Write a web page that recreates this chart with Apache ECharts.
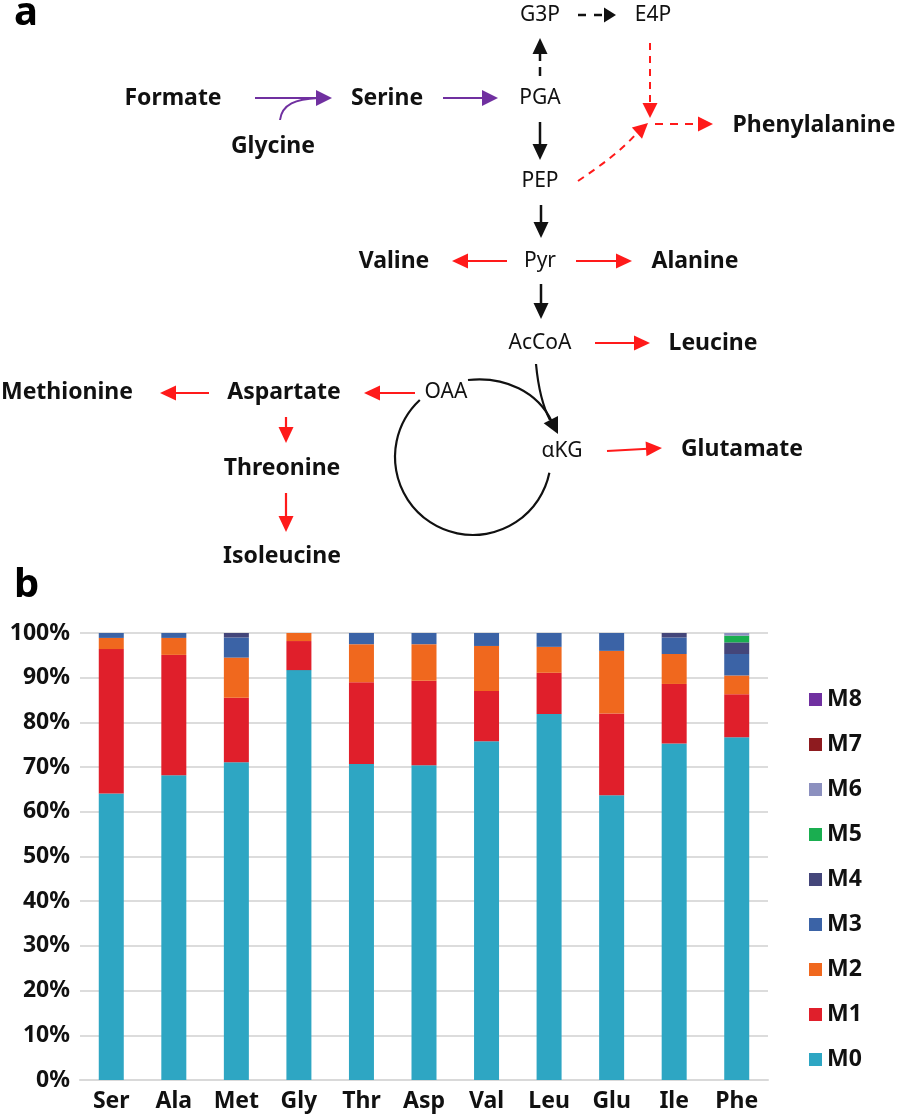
<!DOCTYPE html>
<html>
<head>
<meta charset="utf-8">
<script src="https://cdn.jsdelivr.net/npm/echarts@6/dist/echarts.min.js"></script>
<style>
html,body{margin:0;padding:0;background:#fff;}
#c{width:898px;height:1119px;}
</style>
</head>
<body>
<div id="c"></div>
<script>
// ---- Data (panel b) ----
const categories = ['Ser','Ala','Met','Gly','Thr','Asp','Val','Leu','Glu','Ile','Phe'];
const M0 = [64.1, 68.2, 71.1, 91.7, 70.7, 70.4, 75.8, 81.9, 63.7, 75.3, 76.7];
const M1 = [32.3, 26.9, 14.4,  6.5, 18.3, 18.9, 11.2,  9.2, 18.3, 13.3,  9.6];
const M2 = [ 2.5,  3.8,  9.0,  1.8,  8.5,  8.2, 10.1,  5.8, 14.0,  6.7,  4.2];
const M3 = [ 1.1,  1.1,  4.5,  0.0,  2.5,  2.5,  2.9,  3.1,  4.0,  3.7,  4.8];
const M4 = [ 0.0,  0.0,  1.0,  0.0,  0.0,  0.0,  0.0,  0.0,  0.0,  1.0,  2.6];
const M5 = [ 0.0,  0.0,  0.0,  0.0,  0.0,  0.0,  0.0,  0.0,  0.0,  0.0,  1.5];
const M6 = [ 0.0,  0.0,  0.0,  0.0,  0.0,  0.0,  0.0,  0.0,  0.0,  0.0,  0.6];
const M7 = [ 0.0,  0.0,  0.0,  0.0,  0.0,  0.0,  0.0,  0.0,  0.0,  0.0,  0.0];
const M8 = [ 0.0,  0.0,  0.0,  0.0,  0.0,  0.0,  0.0,  0.0,  0.0,  0.0,  0.0];
const seriesNames = ['M0','M1','M2','M3','M4','M5','M6','M7','M8'];
const seriesValues = [M0, M1, M2, M3, M4, M5, M6, M7, M8];
const seriesColors = ['#2EA6C3','#E01F2B','#F0681E','#3B63A6','#44467A','#1AAE50','#8C90BF','#8E1B1F','#7030A0'];
const yTicks = [0,10,20,30,40,50,60,70,80,90,100];

// ---- Panel a: pathway diagram (schematic) ----
const FONT = '"Noto Sans", "Open Sans", sans-serif';
const RED = '#FF1A1A', BLK = '#111111', PUR = '#7030A0';
const BOLD_SIZE = 23, REG_SIZE = 21;
const g = [];

function txt(s, x, y, bold){
  g.push({type:'text', x:x, y:y, style:{text:s, fill:'#111', font:(bold?'bold '+BOLD_SIZE:REG_SIZE)+'px '+FONT, align:'center', verticalAlign:'middle'}});
}
function head(tx, ty, dx, dy, len, hw, color){
  const L = Math.hypot(dx,dy); dx/=L; dy/=L;
  const bx = tx - dx*len, by = ty - dy*len;
  const px = -dy, py = dx;
  g.push({type:'polygon', shape:{points:[[tx,ty],[bx+px*hw,by+py*hw],[bx-px*hw,by-py*hw]]}, style:{fill:color}});
}
function arrow(x1,y1,x2,y2,color,opts){
  opts = opts||{};
  const len = opts.len||14, hw = opts.hw||7, lw = opts.lw||2;
  const dx=x2-x1, dy=y2-y1, L=Math.hypot(dx,dy);
  const ex = x2 - dx/L*(len-2), ey = y2 - dy/L*(len-2);
  g.push({type:'line', shape:{x1:x1,y1:y1,x2:ex,y2:ey}, style:{stroke:color, lineWidth:lw, lineDash: opts.dash||null}});
  head(x2,y2,dx,dy,len,hw,color);
}

// panel letters
g.push({type:'text', x:14, y:14, style:{text:'a', fill:'#000', font:'bold 40px '+FONT, align:'left', verticalAlign:'middle'}});
g.push({type:'text', x:14, y:586, style:{text:'b', fill:'#000', font:'bold 40px '+FONT, align:'left', verticalAlign:'middle'}});

txt('Formate', 173, 98, true);
txt('Glycine', 273, 146, true);
txt('Serine', 387, 98, true);
txt('PGA', 540, 98, false);
txt('G3P', 540, 15, false);
txt('E4P', 653, 15, false);
txt('PEP', 540, 181, false);
txt('Phenylalanine', 814, 125, true);
txt('Pyr', 540, 261, false);
txt('Valine', 394, 261, true);
txt('Alanine', 695, 261, true);
txt('AcCoA', 540, 343, false);
txt('Leucine', 713, 343, true);
txt('Methionine', 67, 392, true);
txt('Aspartate', 284, 392, true);
txt('OAA', 446, 392, false);
txt('Threonine', 282, 468, true);
txt('Isoleucine', 282, 556, true);
txt('\u03B1KG', 562, 451, false);
txt('Glutamate', 742, 449, true);

// purple arrows
arrow(255, 98, 332, 98, PUR, {len:16, hw:8, lw:2});
g.push({type:'bezierCurve', shape:{x1:280,y1:120,cpx1:282,cpy1:104,cpx2:296,cpy2:99,x2:318,y2:98}, style:{stroke:PUR, lineWidth:2, fill:null}});
arrow(443, 98, 498, 98, PUR, {len:16, hw:8, lw:2});

// black pathway arrows
arrow(540, 76, 540, 38, BLK, {len:16, hw:7.5, lw:2.5, dash:[9,6]});
arrow(578, 15, 616, 15, BLK, {len:12, hw:7.5, lw:2.5, dash:[8,8]});
arrow(540, 122, 540, 160, BLK, {len:16, hw:7.5, lw:2.5});
arrow(541, 205, 541, 238, BLK, {len:16, hw:7.5, lw:2.5});
arrow(541, 284, 541, 319, BLK, {len:16, hw:7.5, lw:2.5});

// red dashed to phenylalanine
arrow(650, 43, 650, 118, RED, {len:15, hw:7.5, lw:2, dash:[7,6]});
g.push({type:'bezierCurve', shape:{x1:578,y1:181,cpx1:600,cpy1:166,cpx2:620,cpy2:152,x2:636,y2:134}, style:{stroke:RED, lineWidth:2, lineDash:[7,6], fill:null}});
head(648, 123, 12, -11, 15, 7.5, RED);
arrow(655, 124, 713, 124, RED, {len:15, hw:7.5, lw:2, dash:[8,7]});

// red solid arrows
const ro = {len:16, hw:7.5, lw:2.2};
arrow(507, 261, 452, 261, RED, ro);
arrow(576, 261, 632, 261, RED, ro);
arrow(595, 343, 650, 343, RED, ro);
arrow(415, 393, 364, 393, RED, ro);
arrow(209, 393, 160, 393, RED, ro);
arrow(286, 417, 286, 443, RED, ro);
arrow(286, 493, 286, 532, RED, ro);
arrow(607, 451, 662, 448, RED, ro);

// TCA cycle
g.push({type:'arc', shape:{cx:473, cy:457, r:78, startAngle:11.7*Math.PI/180, endAngle:227*Math.PI/180, clockwise:true}, style:{stroke:BLK, lineWidth:2.2, fill:null}});
g.push({type:'bezierCurve', shape:{x1:468,y1:380,cpx1:505,cpy1:376,cpx2:538,cpy2:392,x2:552,y2:422}, style:{stroke:BLK, lineWidth:2.2, fill:null}});
g.push({type:'bezierCurve', shape:{x1:536,y1:364,cpx1:538,cpy1:385,cpx2:542,cpy2:405,x2:550,y2:420}, style:{stroke:BLK, lineWidth:2.2, fill:null}});
head(558, 434, 14, 28, 16, 8, BLK);

// ---- chart ----
const chart = echarts.init(document.getElementById('c'), null, {renderer:'canvas'});
const series = seriesNames.map((n,i)=>({
  name:n, type:'bar', stack:'total', barWidth:25,
  data: seriesValues[i],
  itemStyle:{color:seriesColors[i]},
  emphasis:{disabled:true}
}));
chart.setOption({
  animation:false,
  backgroundColor:'#ffffff',
  color: seriesColors,
  graphic: g,
  grid:{left:80, right:130, top:633, bottom:39, containLabel:false},
  xAxis:{
    type:'category', data:categories,
    axisLine:{lineStyle:{color:'#D9D9D9', width:2}},
    axisTick:{show:false},
    axisLabel:{color:'#111', fontFamily:FONT, fontWeight:'bold', fontSize:23, margin:10}
  },
  yAxis:{
    type:'value', min:0, max:100, interval:10,
    axisLine:{show:false}, axisTick:{show:false},
    splitLine:{lineStyle:{color:'#DCDCDC', width:2}},
    axisLabel:{color:'#111', fontFamily:FONT, fontWeight:'bold', fontSize:23, margin:10,
      formatter: v => (yTicks.indexOf(v) >= 0 ? v + '%' : '')}
  },
  legend:{
    data: seriesNames.slice().reverse(),
    orient:'vertical', left:804, top:683,
    itemWidth:13, itemHeight:13, itemGap:22, icon:'rect',
    textStyle:{color:'#111', fontFamily:FONT, fontWeight:'bold', fontSize:23, lineHeight:23},
    selectedMode:false
  },
  series: series
});
</script>
</body>
</html>
